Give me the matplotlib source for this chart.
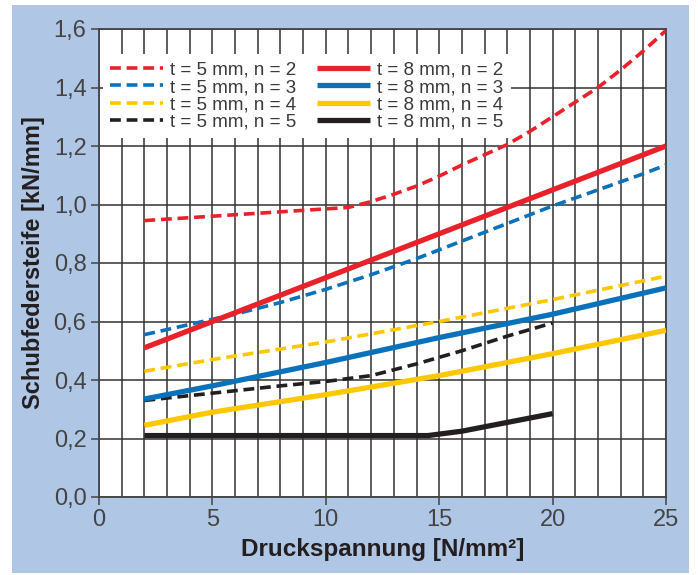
"Schubfedersteife vs Druckspannung"
import matplotlib.pyplot as plt
from matplotlib.patches import Rectangle

# t = 5 mm (dashed)
x_5_2 = [2, 4, 6, 8, 10, 11, 12, 13, 14, 15, 16, 17, 18, 19, 20, 21, 22, 23, 24, 25]
y_5_2 = [0.945, 0.955, 0.965, 0.975, 0.985, 0.99, 1.01, 1.035, 1.063, 1.097, 1.135,
         1.17, 1.205, 1.25, 1.3, 1.35, 1.4, 1.46, 1.525, 1.595]
x_5_3 = [2, 4, 6, 8, 10, 12, 14, 16, 18, 20, 22, 24, 25]
y_5_3 = [0.555, 0.59, 0.625, 0.665, 0.71, 0.76, 0.815, 0.875, 0.935, 0.995, 1.05, 1.105, 1.135]
x_5_4 = [2, 5, 10, 15, 20, 25]
y_5_4 = [0.43, 0.47, 0.53, 0.6, 0.675, 0.755]
x_5_5 = [2, 5, 8, 10, 12, 14, 16, 18, 20]
y_5_5 = [0.33, 0.355, 0.38, 0.395, 0.415, 0.455, 0.5, 0.55, 0.595]

# t = 8 mm (solid)
x_8_2 = [2, 25]
y_8_2 = [0.51, 1.2]
x_8_3 = [2, 5, 10, 15, 20, 25]
y_8_3 = [0.335, 0.38, 0.46, 0.545, 0.625, 0.715]
x_8_4 = [2, 5, 10, 15, 20, 25]
y_8_4 = [0.245, 0.29, 0.35, 0.415, 0.49, 0.57]
x_8_5 = [2, 14.5, 16, 18, 20]
y_8_5 = [0.21, 0.21, 0.225, 0.255, 0.285]

labels_5 = ['t = 5 mm, n = 2', 't = 5 mm, n = 3', 't = 5 mm, n = 4', 't = 5 mm, n = 5']
labels_8 = ['t = 8 mm, n = 2', 't = 8 mm, n = 3', 't = 8 mm, n = 4', 't = 8 mm, n = 5']

xticks = [0, 5, 10, 15, 20, 25]
yticks = [0.0, 0.2, 0.4, 0.6, 0.8, 1.0, 1.2, 1.4, 1.6]
ytick_labels = ['0,0', '0,2', '0,4', '0,6', '0,8', '1,0', '1,2', '1,4', '1,6']

RED = '#e9212b'
BLUE = '#0a72bb'
YELLOW = '#fdc800'
BLACK = '#231f20'
BG = '#afc6e5'

plt.rcParams['font.family'] = ['Liberation Sans', 'DejaVu Sans']

fig = plt.figure(figsize=(6.98, 5.75), dpi=100, facecolor='white')
fig.patches.append(Rectangle((12 / 698, 1 - 573 / 575), 677 / 698, 568 / 575,
                             transform=fig.transFigure, facecolor=BG,
                             edgecolor='none', zorder=-10))
ax = fig.add_axes([99 / 698, 1 - 497 / 575, 567 / 698, 468 / 575])
ax.set_facecolor('white')

dash = (3.0, 1.6)
lw_d = 2.6
lw_s = 3.8
handles = []
for x, y, c in [(x_5_2, y_5_2, RED), (x_5_3, y_5_3, BLUE),
                (x_5_4, y_5_4, YELLOW), (x_5_5, y_5_5, BLACK)]:
    h, = ax.plot(x, y, color=c, lw=lw_d, dashes=dash, zorder=3)
    handles.append(h)
for x, y, c in [(x_8_2, y_8_2, RED), (x_8_3, y_8_3, BLUE),
                (x_8_4, y_8_4, YELLOW), (x_8_5, y_8_5, BLACK)]:
    h, = ax.plot(x, y, color=c, lw=lw_s, solid_capstyle='butt', zorder=3)
    handles.append(h)

ax.set_xlim(0, 25)
ax.set_ylim(0, 1.6)
ax.set_xticks(xticks)
ax.set_xticks(range(0, 26), minor=True)
ax.set_yticks(yticks)
ax.set_yticklabels(ytick_labels)
ax.grid(True, which='both', axis='x', color='#333333', lw=1.1, zorder=1)
ax.grid(True, which='major', axis='y', color='#333333', lw=1.1, zorder=1)
ax.set_axisbelow(True)
ax.tick_params(which='major', direction='out', length=6, width=1.1, color='#444444',
               labelsize=17, labelcolor='#444444', pad=3)
ax.tick_params(which='minor', length=0)
for s in ax.spines.values():
    s.set_color('#444444')
    s.set_linewidth(1.3)

ax.set_xlabel('Druckspannung [N/mm²]', fontsize=17.5, fontweight='bold', color='#231f20', labelpad=5)
ax.set_ylabel('Schubfedersteife [kN/mm]', fontsize=17, fontweight='bold', color='#231f20', labelpad=6)

leg = ax.legend(handles, labels_5 + labels_8, ncol=2, loc='upper left',
                bbox_to_anchor=(0.007, 0.946), borderaxespad=0, frameon=True,
                fontsize=13.5, handlelength=2.8, handletextpad=0.4, labelspacing=0.0,
                columnspacing=1.1, borderpad=0.4, fancybox=False)
leg.get_frame().set_facecolor('white')
leg.get_frame().set_edgecolor('none')
leg.get_frame().set_alpha(1)
for t in leg.get_texts():
    t.set_color('#3a3a3a')

fig.savefig('out.png', dpi=100)
